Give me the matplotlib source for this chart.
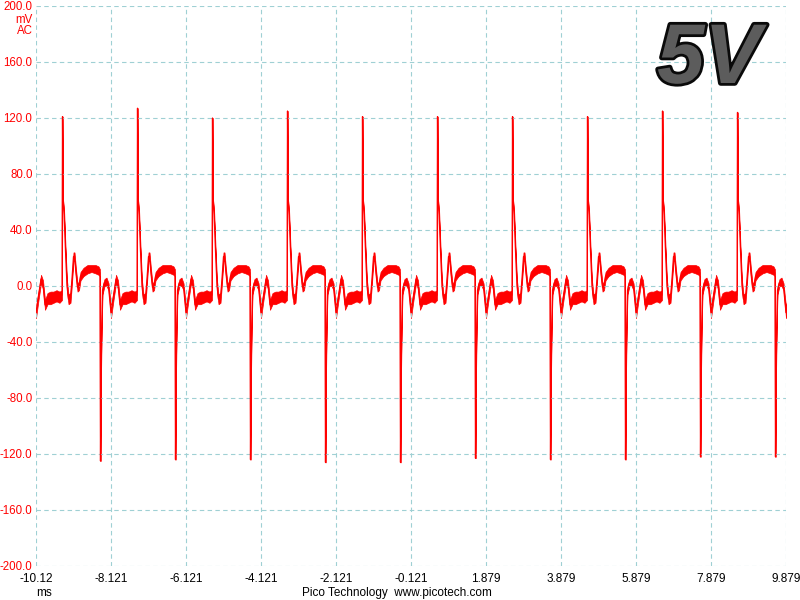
import numpy as np
import matplotlib
matplotlib.use('Agg')
from matplotlib import pyplot as plt
from matplotlib import patheffects as pe

# spike times (ms), plus peak heights for each cycle
pos_spike_t = [-9.414, -7.414, -5.414, -3.414, -1.414, 0.586, 2.586, 4.586, 6.586, 8.586]
pos_peak = [121, 127, 120, 125, 121, 121, 121, 121, 125, 124]
neg_peak = [-125, -124, -124, -126, -126, -123, -124, -124, -122, -122]

# one cycle of the waveform, offset from the positive spike (ms), noise band low/high (mV)
cycle_dt = [0.0, 0.013, 0.04, 0.08, 0.12, 0.16, 0.213, 0.253, 0.293, 0.32, 0.36, 0.40,
            0.44, 0.48, 0.56, 0.667, 0.773, 0.88, 0.96, 0.997, 1.013, 1.027, 1.045,
            1.067, 1.12, 1.173, 1.227, 1.293, 1.36, 1.427, 1.48, 1.533, 1.60, 1.68,
            1.76, 1.84, 1.92, 1.987]
cycle_lo = [None, 58, 50, 22, -4, -13, -12, 2, 18, 18, 6, -4,
            -3, 4, 7, 9, 10, 9, 8, 7, None, -65, -30,
            -6, 0, 0, -3, -23, -10, 2, -2, -17, -13, -13,
            -12, -11, -12, -10]
cycle_hi = [None, 62, 56, 28, 4, -6, -5, 8, 24, 24, 12, 2,
            3, 10, 13, 15, 15, 15, 14, 12, None, -55, -24,
            0, 5, 6, 2, -15, -4, 8, 4, -10, -5, -4,
            -4, -3, -4, -3]

x_ticks = [-10.121, -8.121, -6.121, -4.121, -2.121, -0.121, 1.879, 3.879, 5.879, 7.879, 9.879]
x_labels = ['-10.12', '-8.121', '-6.121', '-4.121', '-2.121', '-0.121', '1.879', '3.879',
            '5.879', '7.879', '9.879']
y_ticks = [-200, -160, -120, -80, -40, 0, 40, 80, 120, 160, 200]

# stitch the cycles together
t, lo, hi = [], [], []
# tail of the cycle before the first spike
for dt, a, b in zip(cycle_dt, cycle_lo, cycle_hi):
    if dt >= 1.25:
        t.append(pos_spike_t[0] - 2 + dt)
        lo.append(a)
        hi.append(b)
for t0, pk, nk in zip(pos_spike_t, pos_peak, neg_peak):
    for i, (dt, a, b) in enumerate(zip(cycle_dt, cycle_lo, cycle_hi)):
        if i == 0:
            a = b = pk
        elif i == 20:
            a = b = nk
        t.append(t0 + dt)
        lo.append(a)
        hi.append(b)
t = np.array(t)
lo = np.array(lo, dtype=float)
hi = np.array(hi, dtype=float)
mid = (lo + hi) / 2

plt.rcParams['font.family'] = ['Liberation Sans', 'DejaVu Sans']

fig = plt.figure(figsize=(8, 6), dpi=100)
ax = fig.add_axes([36 / 800, 34 / 600, 750 / 800, 560 / 600])

ax.fill_between(t, lo, hi, color='#ff0000', linewidth=0.5)
ax.plot(t, mid, color='#ff0000', linewidth=0.9)

ax.set_xlim(-10.121, 9.879)
ax.set_ylim(-200, 200)
ax.set_xticks(x_ticks)
ax.set_xticklabels(x_labels)
ax.set_yticks(y_ticks)
ax.set_yticklabels([f'{v:.1f}' for v in y_ticks], color='#ff0000')
ax.tick_params(axis='both', length=0, labelsize=8.5)
ax.tick_params(axis='y', pad=2.5, labelsize=8.3)
ax.tick_params(axis='x', pad=5)
ax.grid(True, color='#9fd0d4', linestyle=(0, (4, 3)), linewidth=0.8)
for s in ax.spines.values():
    s.set_visible(False)

fig.text(32.5 / 800, 1 - 20 / 600, 'mV', color='#ff0000', fontsize=8.3, ha='right', va='center')
fig.text(32.5 / 800, 1 - 31 / 600, 'AC', color='#ff0000', fontsize=8.3, ha='right', va='center')
fig.text(44 / 800, 1 - 593 / 600, 'ms', fontsize=8.5, ha='center', va='center')
fig.text(397 / 800, 1 - 593 / 600, 'Pico Technology  www.picotech.com', fontsize=8.5,
         ha='center', va='center')

fig.text(709 / 800, 1 - 83 / 600, '5V', fontsize=61, fontstyle='italic', fontweight='bold',
         color='#5c5c5c', ha='center', va='baseline',
         path_effects=[pe.Stroke(linewidth=4, foreground='#0a0a0a'), pe.Normal()])

fig.savefig('out.png', dpi=100)
